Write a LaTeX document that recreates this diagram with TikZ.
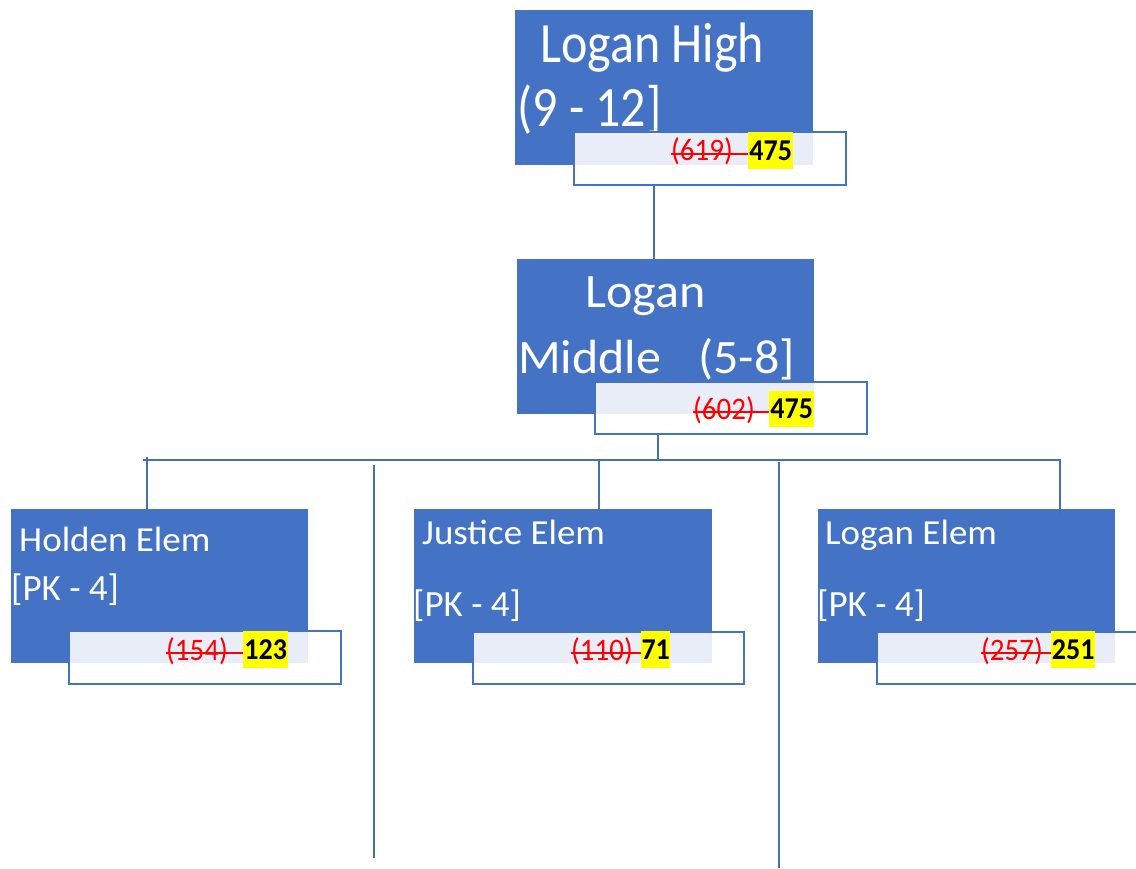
\documentclass[tikz,border=0pt]{standalone}
\usepackage{fontspec}
\setmainfont{Carlito}
\usepackage{graphicx}
\definecolor{boxblue}{RGB}{68,114,196}
\definecolor{lineblue}{RGB}{72,110,180}
\definecolor{hlyellow}{RGB}{255,255,0}
\newcommand\vst[2]{\scalebox{1}[#1]{#2}}
\begin{document}
\begin{tikzpicture}[x=1pt,y=-1pt,
  bbox/.style={fill=boxblue, draw=none, inner sep=0pt, anchor=north west},
  wbox/.style={draw=boxblue, line width=1.8pt, fill=white, fill opacity=0.88, inner sep=0pt, anchor=north west},
  conn/.style={draw=lineblue, line width=1.3pt},
  wtxt/.style={text=white, inner sep=0pt, anchor=base west},
  redtxt/.style={text=red, inner sep=0pt, anchor=base west, font=\fontsize{29}{32}\selectfont},
  hl/.style={fill=hlyellow, inner sep=0pt, anchor=north west, minimum height=37pt, text=black, font=\fontsize{28}{31}\selectfont\bfseries},
  strike/.style={draw=red, line width=1.5pt},
  big/.style={font=\fontsize{50}{60}\selectfont},
  mid/.style={font=\fontsize{50}{60}\selectfont},
  small/.style={font=\fontsize{37}{44}\selectfont}]
\useasboundingbox (0,0) rectangle (1136,869);

% ---- Logan High ----
\node[bbox, minimum width=298pt, minimum height=155pt] (hs) at (515,10) {};
\node[wtxt, big] (hst1) at (540,63) {\vst{1.14}{Logan High}};
\node[wtxt, big] (hst2) at (517,127) {\vst{1.14}{(9 - 12]}};
\node[wbox, minimum width=272pt, minimum height=53pt] (hsw) at (573,131) {};
\node[redtxt] (hsr) at (671,161) {\vst{1.08}{(619)}};
\node[hl, minimum width=45pt] (hsy) at (748,132) {\vst{1.08}{475}};
\draw[strike] ([yshift=7pt]hsr.base west) -- ([yshift=7pt]hsr.base west -| hsy.west);

% ---- Logan Middle ----
\node[bbox, minimum width=297pt, minimum height=155pt] (ms) at (517,259) {};
\node[wtxt, mid] (mst1) at (585,308) {\vst{0.96}{Logan}};
\node[wtxt, mid] (mst2) at (518,373) {\vst{0.96}{Middle\hspace{37pt}(5-8]}};
\node[wbox, minimum width=272pt, minimum height=52pt] (msw) at (594,381) {};
\node[redtxt] (msr) at (693,419) {\vst{1.08}{(602)}};
\node[hl, minimum width=45pt, minimum height=36pt] (msy) at (769,391) {\vst{1.08}{475}};
\draw[strike] ([yshift=7pt]msr.base west) -- ([yshift=7pt]msr.base west -| msy.west);

% ---- Holden Elem ----
\node[bbox, minimum width=297pt, minimum height=154pt] (ho) at (11,509) {};
\node[wtxt, small] (hot1) at (19,551) {\vst{0.95}{Holden Elem}};
\node[wtxt, small] (hot2) at (11,600) {\vst{1.0}{[PK - 4]}};
\node[wbox, minimum width=272pt, minimum height=53pt] (how) at (68,630) {};
\node[redtxt] (hor) at (166,660) {\vst{1.08}{(154)}};
\node[hl, minimum width=45pt] (hoy) at (243,631) {\vst{1.08}{123}};
\draw[strike] ([yshift=7pt]hor.base west) -- ([yshift=7pt]hor.base west -| hoy.west);

% ---- Justice Elem ----
\node[bbox, minimum width=298pt, minimum height=154pt] (ju) at (414,509) {};
\node[wtxt, small] (jut1) at (422,544) {\vst{0.95}{Justice Elem}};
\node[wtxt, small] (jut2) at (413,616) {\vst{1.0}{[PK - 4]}};
\node[wbox, minimum width=271pt, minimum height=52pt] (juw) at (472,631) {};
\node[redtxt] (jur) at (571,660) {\vst{1.08}{(110)}};
\node[hl, minimum width=29pt] (juy) at (641,631) {\vst{1.08}{71}};
\draw[strike] ([yshift=7pt]jur.base west) -- ([yshift=7pt]jur.base west -| juy.west);

% ---- Logan Elem ----
\node[bbox, minimum width=297pt, minimum height=154pt] (le) at (818,509) {};
\node[wtxt, small] (let1) at (825,544) {\vst{0.95}{Logan Elem}};
\node[wtxt, small] (let2) at (817,616) {\vst{1.0}{[PK - 4]}};
\node[wbox, minimum width=272pt, minimum height=52pt] (lew) at (876,631) {};
\node[redtxt] (ler) at (981,660) {\vst{1.08}{(257)}};
\node[hl, minimum width=44pt] (ley) at (1051,631) {\vst{1.08}{251}};
\draw[strike] ([yshift=7pt]ler.base west) -- ([yshift=7pt]ler.base west -| ley.west);

% ---- connectors ----
\coordinate (c1) at (654,0);
\coordinate (c2) at (658,0);
\coordinate (busL) at (143,460);
\coordinate (busR) at (1061,460);
\draw[conn] (hsw.south -| c1) -- (ms.north -| c1);
\draw[conn] (msw.south -| c2) -- (busL -| c2);
\draw[conn] (busL) -- (busR);
\coordinate (d1) at (147,457);
\coordinate (d2) at (599,459);
\coordinate (d3) at (1060,460);
\coordinate (d3e) at (1060,514);
\draw[conn] (d1) -- (d1 |- ho.north);
\draw[conn] (d2) -- (d2 |- ju.north);
\draw[conn] (d3) -- (d3e);
\coordinate (v1a) at (374,465);
\coordinate (v1b) at (374,858);
\coordinate (v2a) at (779,462);
\coordinate (v2b) at (779,868);
\draw[conn] (v1a) -- (v1b);
\draw[conn] (v2a) -- (v2b);
\end{tikzpicture}
\end{document}
